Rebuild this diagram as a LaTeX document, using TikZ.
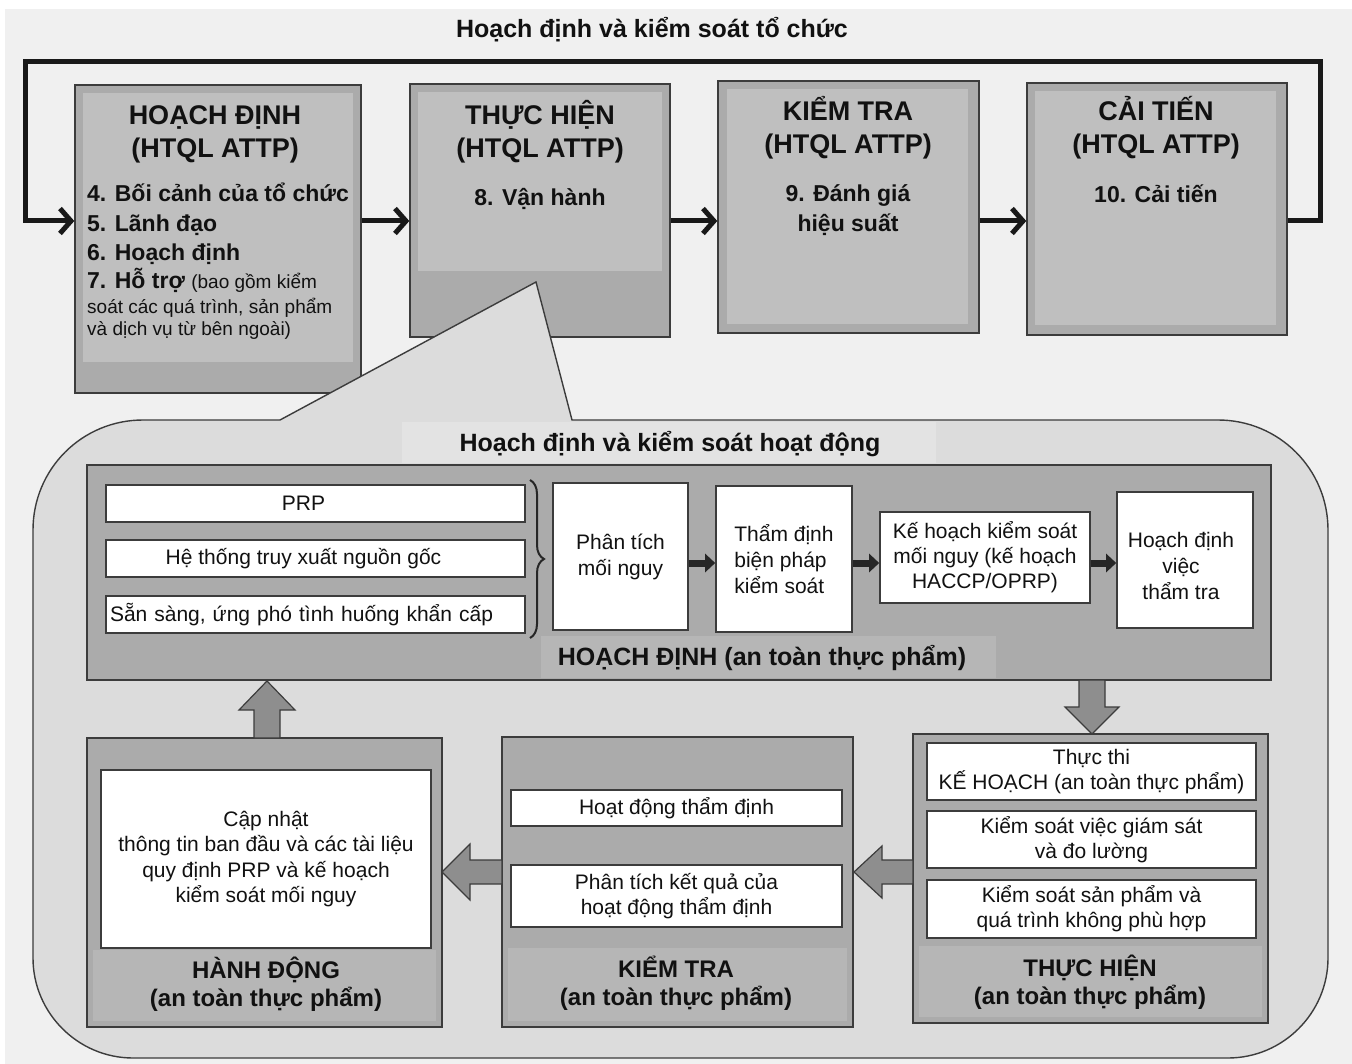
\documentclass[tikz,border=0pt]{standalone}
\usepackage{fontspec}
\setmainfont{Liberation Sans}
\usetikzlibrary{arrows.meta,decorations.pathreplacing}
\definecolor{bgc}{HTML}{F0F0F0}
\definecolor{bdr}{HTML}{3C3C3C}
\definecolor{boxdark}{HTML}{ABABAB}
\definecolor{boxlight}{HTML}{BFBFBF}
\definecolor{calloutc}{HTML}{DCDCDC}
\definecolor{bandc}{HTML}{E3E3E3}
\definecolor{panelc}{HTML}{ABABAB}
\definecolor{panelband}{HTML}{B6B6B6}
\definecolor{blockc}{HTML}{8E8E8E}
\definecolor{ink}{HTML}{111111}
\newcommand{\bx}[6]{\node[#6, minimum width={(#4-#2)*1pt}, minimum height={(#5-#3)*1pt}] (#1) at ({(#2+#4)/2},{(#3+#5)/2}) {};}
\newcommand{\bxt}[7]{\node[#6, minimum width={(#4-#2)*1pt}, minimum height={(#5-#3)*1pt}] (#1) at ({(#2+#4)/2},{(#3+#5)/2}) {#7};}
\newcommand{\tl}[5]{\node[#4, anchor=base, inner sep=0pt] (#1) at (#2,#3) {#5};}
\begin{document}
\begin{tikzpicture}[x=1pt,y=-1pt,
  topbox/.style={draw=bdr, line width=1.4pt, fill=boxdark, inner sep=0pt},
  panelbox/.style={draw=bdr, line width=1.4pt, fill=panelc, inner sep=0pt},
  wbox/.style={draw=bdr, line width=1.6pt, fill=white, inner sep=2pt, align=center, text=ink, font=\fontsize{21}{26}\selectfont},
  wtext/.style={align=center, text=ink, inner sep=0pt, font=\fontsize{21}{26}\selectfont},
  head/.style={text=ink, font=\fontsize{27}{30}\bfseries},
  item/.style={text=ink, font=\fontsize{23}{28}\bfseries},
  small/.style={text=ink, font=\fontsize{19}{23}\selectfont},
  lab/.style={text=ink, font=\fontsize{24}{30}\bfseries},
  bigtitle/.style={text=ink, font=\fontsize{25}{30}\bfseries},
  flow/.style={line width=5pt, draw=black!90, -{Straight Barb[length=11pt,width=25pt]}},
  harrow/.style={line width=7pt, draw=black!85, -{Triangle[length=10pt,width=18pt]}},
  blockarr/.style={fill=blockc, draw=bdr, line width=1.2pt, line join=miter}
]
\useasboundingbox (0,0) rectangle (1352,1064);
\fill[white] (0,0) rectangle (1352,1064);
\fill[bgc] (5,9) rectangle (1352,1064);

% top title
\tl{ttl}{652}{38}{bigtitle}{Hoạch định và kiểm soát tổ chức}

% top boxes
\bx{hd}{75}{85}{361}{393}{topbox}
\fill[boxlight] (83,93) rectangle (353,362);
\bx{th}{410}{84}{670}{337}{topbox}
\fill[boxlight] (418,92) rectangle (662,271);
\bx{kt}{718}{81}{979}{333}{topbox}
\fill[boxlight] (727,89) rectangle (968,324);
\bx{ct}{1027}{83}{1287}{335}{topbox}
\fill[boxlight] (1035,91) rectangle (1276,325);

% top texts
\tl{hd1}{215}{125}{head}{HOẠCH ĐỊNH}
\tl{hd2}{215}{158}{head}{(HTQL ATTP)}
\node[item, anchor=base west, inner sep=0pt] (hd3) at (87,202) {4. Bối cảnh của tổ chức};
\node[item, anchor=base west, inner sep=0pt] (hd4) at (87,232) {5. Lãnh đạo};
\node[item, anchor=base west, inner sep=0pt] (hd5) at (87,261) {6. Hoạch định};
\node[item, anchor=base west, inner sep=0pt] (hd6) at (87,289) {7. Hỗ trợ {\fontsize{19}{23}\mdseries (bao gồm kiểm}};
\node[small, anchor=base west, inner sep=0pt] (hd7) at (87,314) {soát các quá trình, sản phẩm};
\node[small, anchor=base west, inner sep=0pt] (hd8) at (87,336) {và dịch vụ từ bên ngoài)};

\tl{th1}{540}{125}{head}{THỰC HIỆN}
\tl{th2}{540}{158}{head}{(HTQL ATTP)}
\tl{th3}{540}{206}{item}{8. Vận hành}

\tl{kt1}{848}{121}{head}{KIỂM TRA}
\tl{kt2}{848}{154}{head}{(HTQL ATTP)}
\tl{kt3}{848}{202}{item}{9. Đánh giá}
\tl{kt4}{848}{232}{item}{hiệu suất}

\tl{ct1}{1156}{121}{head}{CẢI TIẾN}
\tl{ct2}{1156}{154}{head}{(HTQL ATTP)}
\tl{ct3}{1156}{203}{item}{10. Cải tiến}

% top arrows
\coordinate (ry) at (0,221);
\draw[flow] (hd.east |- ry) -- (th.west |- ry);
\draw[flow] (th.east |- ry) -- (kt.west |- ry);
\draw[flow] (kt.east |- ry) -- (ct.west |- ry);
\draw[flow] (ct.east |- ry) -- (1320,221) -- (1320,62) -- (25,62) -- (25,221) -- (hd.west |- ry);

% callout
\draw[fill=calloutc, draw=bdr, line width=1.4pt, line join=miter]
  (33,530) .. controls (33,469) and (82,420) .. (143,420) -- (280,420) -- (536,282) -- (572,420)
  -- (1218,420) .. controls (1279,420) and (1328,469) .. (1328,530) -- (1328,958)
  .. controls (1328,1013) and (1283,1058) .. (1228,1058) -- (133,1058)
  .. controls (78,1058) and (33,1013) .. (33,958) -- cycle;
\fill[bandc] (402,422) rectangle (936,463);
\tl{inttl}{670}{451}{bigtitle}{Hoạch định và kiểm soát hoạt động}

% plan panel
\bx{plan}{87}{465}{1271}{680}{panelbox}
\fill[panelband] (541,636) rectangle (996,678);
\tl{planlab}{762}{665}{bigtitle}{HOẠCH ĐỊNH (an toàn thực phẩm)}

\bxt{prp}{106}{485}{525}{522}{wbox}{\hspace*{-24pt}PRP}
\bxt{trace}{106}{540}{525}{577}{wbox}{\hspace*{-24pt}Hệ thống truy xuất nguồn gốc}
\bxt{emerg}{106}{596}{525}{633}{wbox, align=left, text width=411pt}{Sẵn sàng, ứng phó tình huống khẩn cấp}
\draw[line width=2pt, draw=black!85, decorate, decoration={brace, amplitude=14pt}] (530,480) -- (530,638);

\bxt{haz}{553}{483}{688}{630}{wbox}{Phân tích\\mối nguy}
\bxt{val}{716}{486}{852}{632}{wbox, align=left}{Thẩm định\\biện pháp\\kiểm soát}
\bxt{hplan}{880}{512}{1090}{603}{wbox, font=\fontsize{21}{25}\selectfont}{Kế hoạch kiểm soát\\mối nguy (kế hoạch\\HACCP/OPRP)}
\bx{verif}{1117}{492}{1253}{628}{wbox}
\node[wtext] (veriftext) at ([yshift=-6pt,xshift=-4pt]verif.center) {Hoạch định\\việc\\thẩm tra};

\coordinate (hy) at (0,563);
\draw[harrow] (haz.east |- hy) -- (val.west |- hy);
\draw[harrow] (val.east |- hy) -- (hplan.west |- hy);
\draw[harrow] (hplan.east |- hy) -- (verif.west |- hy);

% bottom panels
\bx{act}{87}{738}{442}{1027}{panelbox}
\fill[panelband] (93,950) rectangle (436,1021);
\bxt{actbox}{101}{770}{431}{948}{wbox, font=\fontsize{21}{25.5}\selectfont}{Cập nhật\\thông tin ban đầu và các tài liệu\\quy định PRP và kế hoạch\\kiểm soát mối nguy}
\tl{act1}{266}{978}{lab}{HÀNH ĐỘNG}
\tl{act2}{266}{1006}{lab}{(an toàn thực phẩm)}

\bx{chk}{502}{737}{853}{1027}{panelbox}
\fill[panelband] (508,948) rectangle (847,1021);
\bxt{chk1}{511}{790}{842}{826}{wbox}{Hoạt động thẩm định}
\bxt{chk2}{511}{865}{842}{927}{wbox, font=\fontsize{21}{25}\selectfont}{Phân tích kết quả của\\hoạt động thẩm định}
\tl{chkl1}{676}{977}{lab}{KIỂM TRA}
\tl{chkl2}{676}{1005}{lab}{(an toàn thực phẩm)}

\bx{do}{913}{734}{1268}{1023}{panelbox}
\fill[panelband] (919,946) rectangle (1262,1017);
\bxt{do1}{927}{743}{1256}{800}{wbox, font=\fontsize{21}{25}\selectfont}{Thực thi\\KẾ HOẠCH (an toàn thực phẩm)}
\bxt{do2}{927}{811}{1256}{868}{wbox, font=\fontsize{21}{25}\selectfont}{Kiểm soát việc giám sát\\và đo lường}
\bxt{do3}{927}{880}{1256}{938}{wbox, font=\fontsize{21}{25}\selectfont}{Kiểm soát sản phẩm và\\quá trình không phù hợp}
\tl{dol1}{1090}{976}{lab}{THỰC HIỆN}
\tl{dol2}{1090}{1004}{lab}{(an toàn thực phẩm)}

% block arrows
\draw[blockarr] (1079,680) -- (1105,680) -- (1105,707) -- (1119,707) -- (1092,734) -- (1065,707) -- (1079,707) -- cycle;
\draw[blockarr] (254,738) -- (280,738) -- (280,710) -- (295,710) -- (267,681) -- (239,710) -- (254,710) -- cycle;
\draw[blockarr] (913,860) -- (913,884) -- (882,884) -- (882,898) -- (854,872) -- (882,846) -- (882,860) -- cycle;
\draw[blockarr] (502,860) -- (502,884) -- (470,884) -- (470,900) -- (442,872) -- (470,844) -- (470,860) -- cycle;
\end{tikzpicture}
\end{document}
